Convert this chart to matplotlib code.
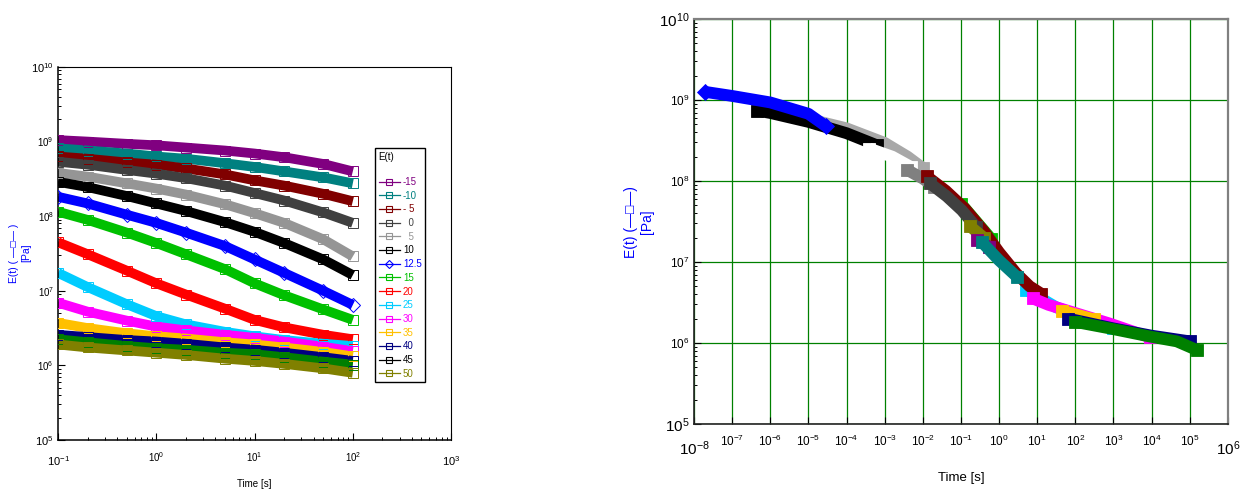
import matplotlib
matplotlib.use("Agg")
import matplotlib.pyplot as plt
from matplotlib.lines import Line2D
from matplotlib.ticker import LogLocator, NullLocator, NullFormatter
import numpy as np

plt.rcParams["font.family"] = ["Liberation Sans", "DejaVu Sans"]
plt.rcParams["mathtext.fontset"] = "custom"
plt.rcParams["mathtext.rm"] = "Liberation Sans"
plt.rcParams["mathtext.it"] = "Liberation Sans:italic"
plt.rcParams["mathtext.bf"] = "Liberation Sans:bold"

# ---- left panel: E(t) at each test temperature (log10 of Pa) ----
temp_labels = ["-15", "-10", "- 5", "  0", "  5", "10", "12.5", "15",
               "20", "25", "30", "35", "40", "45", "50"]
time_s = [0.1, 0.2, 0.5, 1, 2, 5, 10, 20, 50, 100]

logE_m15 = [9.02, 9.00, 8.97, 8.95, 8.92, 8.88, 8.84, 8.79, 8.70, 8.60]
logE_m10 = [8.91, 8.88, 8.84, 8.80, 8.77, 8.71, 8.66, 8.60, 8.52, 8.44]
logE_m5 = [8.80, 8.77, 8.72, 8.69, 8.64, 8.56, 8.48, 8.41, 8.30, 8.20]
logE_0 = [8.73, 8.69, 8.62, 8.57, 8.51, 8.41, 8.31, 8.21, 8.05, 7.91]
logE_5 = [8.58, 8.53, 8.44, 8.37, 8.29, 8.16, 8.04, 7.91, 7.69, 7.46]
logE_10 = [8.46, 8.39, 8.27, 8.17, 8.07, 7.92, 7.79, 7.64, 7.42, 7.21]
logE_12 = [8.26, 8.17, 8.02, 7.91, 7.78, 7.60, 7.42, 7.24, 7.00, 6.81]
logE_15 = [8.06, 7.95, 7.78, 7.64, 7.49, 7.29, 7.10, 6.94, 6.75, 6.61]
logE_20 = [7.65, 7.49, 7.27, 7.10, 6.95, 6.76, 6.61, 6.51, 6.41, 6.35]
logE_25 = [7.24, 7.05, 6.82, 6.66, 6.55, 6.45, 6.39, 6.34, 6.29, 6.26]
logE_30 = [6.84, 6.72, 6.60, 6.52, 6.47, 6.41, 6.37, 6.32, 6.25, 6.19]
logE_35 = [6.57, 6.50, 6.43, 6.39, 6.36, 6.31, 6.28, 6.24, 6.18, 6.12]
logE_40 = [6.41, 6.38, 6.34, 6.32, 6.29, 6.24, 6.21, 6.17, 6.11, 6.06]
logE_45 = [6.35, 6.31, 6.26, 6.23, 6.21, 6.17, 6.15, 6.11, 6.05, 6.01]
logE_50 = [6.28, 6.24, 6.20, 6.17, 6.14, 6.09, 6.06, 6.02, 5.96, 5.90]

left_series = [logE_m15, logE_m10, logE_m5, logE_0, logE_5, logE_10, logE_12,
               logE_15, logE_20, logE_25, logE_30, logE_35, logE_40, logE_45, logE_50]
left_colors = ["#800080", "#008080", "#800000", "#404040", "#959595", "#000000",
               "#0000ff", "#00c000", "#ff0000", "#00ccff", "#ff00ff", "#ffc000",
               "#000080", "#007f00", "#808000"]
legend_colors = left_colors[:13] + ["#000000", "#808000"]
left_markers = ["s"] * 6 + ["D"] + ["s"] * 8

# ---- right panel: shifted master curve segments ----
# (log10 time, log10 E) pairs, listed in drawing order
mc_colors = ["#a8a8a8", "#000000", "#0000ff", "#ffffff", "#808080", "#00ccff",
             "#00c000", "#800000", "#404040", "#808000", "#800080", "#008080",
             "#ff00ff", "#ffc000", "#000080", "#008000"]
mc_markers = ["s", "s", "D"] + ["s"] * 13
mc_logt = [
    [-4.95, -4.0, -3.0, -2.4, -2.0],
    [-6.35, -6.0, -5.0, -4.0, -3.2],
    [-7.7, -7.0, -6.0, -5.0, -4.55],
    [-3.4, -2.8, -2.3],
    [-2.42, -2.0, -1.7],
    [0.7, 1.5, 3.0],
    [-1.0, -0.6, -0.2],
    [-1.9, -1.4, -0.9, -0.4, 0.0, 0.45, 0.8, 1.1],
    [-1.81, -1.37, -0.98, -0.6],
    [-0.76, -0.4],
    [-0.58, -0.26],
    [-0.46, 0.0, 0.46],
    [0.88, 1.3, 1.72, 2.9, 3.95],
    [1.64, 2.5],
    [1.82, 3.0, 4.0, 5.0],
    [2.0, 2.9, 3.95, 4.66, 5.2],
]
mc_logE = [
    [8.76, 8.65, 8.47, 8.30, 8.16],
    [8.87, 8.84, 8.73, 8.59, 8.44],
    [9.10, 9.05, 8.97, 8.83, 8.68],
    [8.40, 8.30, 8.17],
    [8.14, 8.03, 7.93],
    [6.66, 6.44, 6.18],
    [7.72, 7.50, 7.28],
    [8.06, 7.88, 7.66, 7.38, 7.12, 6.86, 6.70, 6.61],
    [7.97, 7.81, 7.64, 7.43],
    [7.44, 7.30],
    [7.27, 7.19],
    [7.25, 7.02, 6.82],
    [6.55, 6.47, 6.41, 6.24, 6.07],
    [6.40, 6.29],
    [6.30, 6.18, 6.09, 6.02],
    [6.26, 6.18, 6.08, 6.02, 5.91],
]

fig = plt.figure(figsize=(12.54, 4.91), dpi=100)

# ================= left panel =================
ax1 = fig.add_axes([0.0463, 0.1039, 0.3134, 0.7597])
t = np.array(time_s)
for vals, c, m in zip(left_series, left_colors, left_markers):
    E = 10 ** np.array(vals)
    ax1.plot(t, E, "-", color=c, lw=7, solid_capstyle="butt", zorder=2)
    ax1.plot(t, E, ls="none", marker=m, mfc="none", mec=c, ms=7, mew=0.7, zorder=3)

ax1.set_xscale("log")
ax1.set_yscale("log")
ax1.set_xlim(0.1, 1000)
ax1.set_ylim(1e5, 1e10)
ax1.xaxis.set_major_locator(LogLocator(base=10, numticks=10))
ax1.yaxis.set_major_locator(LogLocator(base=10, numticks=10))
ax1.xaxis.set_minor_locator(LogLocator(base=10, subs=np.arange(2, 10), numticks=10))
ax1.yaxis.set_minor_locator(LogLocator(base=10, subs=np.arange(2, 10), numticks=10))
ax1.xaxis.set_minor_formatter(NullFormatter())
ax1.yaxis.set_minor_formatter(NullFormatter())
ax1.tick_params(which="major", direction="in", length=5, width=0.8, labelsize=7)
ax1.tick_params(which="minor", direction="in", length=2.5, width=0.7)
ax1.tick_params(axis="x", which="major", pad=7)
ax1.tick_params(axis="y", which="major", pad=3)
for side in ["left", "bottom"]:
    ax1.spines[side].set_linewidth(1.1)
for side in ["top", "right"]:
    ax1.spines[side].set_linewidth(0.8)

ax1.set_xlabel("Time [s]", fontsize=7, labelpad=8)
fig.text(0.016, 0.485, "E(t) ( —□— )\n[Pa]", rotation=90, color="#0000ff",
         fontsize=7.5, ha="center", va="center", multialignment="center")

handles = [Line2D([], [], color=c, lw=0.9, marker=m, mfc="none", mec=c, ms=4.5, mew=0.8)
           for c, m in zip(legend_colors, left_markers)]
leg = ax1.legend(handles, temp_labels, loc="upper left", bbox_to_anchor=(0.807, 0.782),
                 title="E(t)\n", title_fontsize=7, alignment="left", fontsize=7,
                 frameon=True, fancybox=False, edgecolor="black", framealpha=1,
                 handlelength=2.2, handletextpad=0.3, labelspacing=0.38,
                 borderpad=0.35, borderaxespad=0, labelcolor=legend_colors)
leg.get_frame().set_linewidth(1.0)

# ================= right panel =================
ax2 = fig.add_axes([0.5534, 0.1365, 0.4258, 0.8248])
for lt, lE, c, m in zip(mc_logt, mc_logE, mc_colors, mc_markers):
    x = 10 ** np.array(lt)
    y = 10 ** np.array(lE)
    ax2.plot(x, y, "-", color=c, lw=8.5, solid_capstyle="butt", zorder=3)
    ax2.plot(x[[0, -1]], y[[0, -1]], ls="none", marker=m, color=c, ms=8,
             mec=c, mew=0.6, zorder=3)

ax2.set_xscale("log")
ax2.set_yscale("log")
ax2.set_xlim(1e-8, 1e6)
ax2.set_ylim(1e5, 1e10)
ax2.xaxis.set_major_locator(LogLocator(base=10, numticks=20))
ax2.yaxis.set_major_locator(LogLocator(base=10, numticks=10))
ax2.xaxis.set_minor_locator(NullLocator())
ax2.yaxis.set_minor_locator(LogLocator(base=10, subs=np.arange(2, 10), numticks=10))
ax2.yaxis.set_minor_formatter(NullFormatter())
ax2.grid(True, which="major", color="#008000", lw=0.9, zorder=1)
ax2.set_axisbelow(True)
ax2.tick_params(which="major", direction="in", length=5, width=0.8, labelsize=8.5)
ax2.tick_params(which="minor", direction="in", length=2.5, width=0.7)
ax2.tick_params(axis="x", which="major", pad=7)
ax2.tick_params(axis="y", which="major", pad=3)
for side in ["left", "bottom"]:
    ax2.spines[side].set_linewidth(1.2)
    ax2.spines[side].set_color("#222222")
for side in ["top", "right"]:
    ax2.spines[side].set_linewidth(1.6)
    ax2.spines[side].set_color("#808080")

ax2.set_xlabel("Time [s]", fontsize=9.5, labelpad=10)
fig.text(0.5096, 0.548, "E(t) (—□—)\n[Pa]", rotation=90, color="#0000ff",
         fontsize=10, ha="center", va="center", multialignment="center")

# end labels of each axis drawn a bit larger, as in the source chart
fig.canvas.draw()
for ax, big, xpad in [(ax1, 8, 10), (ax2, 11, 11)]:
    xlo, xhi = ax.get_xlim()
    for tk in ax.xaxis.get_major_ticks():
        loc = tk.get_loc()
        if np.isclose(loc, xlo) or np.isclose(loc, xhi):
            tk.label1.set_fontsize(big)
            tk.set_pad(xpad)
    ylo, yhi = ax.get_ylim()
    for tk in ax.yaxis.get_major_ticks():
        loc = tk.get_loc()
        if np.isclose(loc, ylo) or np.isclose(loc, yhi):
            tk.label1.set_fontsize(big)

fig.savefig("out.png", dpi=100)
plt.close(fig)
